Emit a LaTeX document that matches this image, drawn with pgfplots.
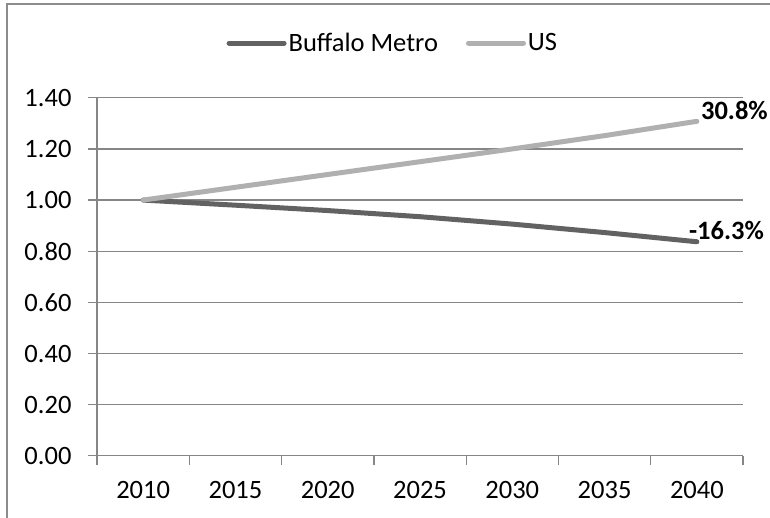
\documentclass[border=0pt]{standalone}
\usepackage{fontspec}
\setmainfont{Carlito}
\usepackage{pgfplots}
\pgfplotsset{compat=1.18}
\definecolor{axgray}{HTML}{868686}
\definecolor{bordergray}{HTML}{8C8C8C}
\definecolor{buf}{HTML}{626262}
\definecolor{usc}{HTML}{B0B0B0}
\newcommand{\chartfont}{\fontsize{26.5bp}{31bp}\selectfont}
\begin{document}
\begin{tikzpicture}[x=1bp,y=1bp]
\useasboundingbox (0,0) rectangle (770,518);
\draw[color=bordergray, line width=1.5bp] (7,-5) -- (7,514) -- (780,514);
\begin{axis}[
  at={(97bp,62.2bp)}, anchor=south west,
  scale only axis, width=646bp, height=358bp,
  xmin=-0.5, xmax=6.5, ymin=0, ymax=1.4,
  clip=false,
  axis x line*=bottom, axis y line*=left,
  axis line style={draw=axgray, line width=1.3bp, -},
  xtick={0,1,2,3,4,5,6},
  xticklabels={2010,2015,2020,2025,2030,2035,2040},
  minor xtick={-0.5,0.5,1.5,2.5,3.5,4.5,5.5,6.5},
  major x tick style={draw=none},
  minor x tick style={draw=axgray, line width=1.3bp},
  ytick={0,0.2,0.4,0.6,0.8,1.0,1.2,1.4},
  y tick style={draw=axgray, line width=1.3bp},
  major tick length=9bp, minor tick length=9bp,
  tick align=outside,
  ymajorgrids,
  y grid style={draw=axgray, line width=1.3bp},
  /pgf/number format/assume math mode=true,
  yticklabel style={/pgf/number format/fixed, /pgf/number format/fixed zerofill, /pgf/number format/precision=2, xshift=-13bp},
  every tick label/.append style={font=\chartfont, text=black},
  xticklabel style={yshift=-13bp},
  legend style={at={(0.458,1.153)}, anchor=center, draw=none, fill=none,
    font=\chartfont, legend columns=2,
    /tikz/every even column/.append style={column sep=26bp}},
  legend image code/.code={\draw[#1] (0bp,0bp) -- (55bp,0bp);},
]
\addplot[draw=buf, line width=5bp, line cap=round, line join=round, mark=none]
  coordinates {(0,1.000) (1,0.980) (2,0.959) (3,0.935) (4,0.906) (5,0.873) (6,0.837)};
\addlegendentry{Buffalo Metro}
\addplot[draw=usc, line width=5bp, line cap=round, line join=round, mark=none]
  coordinates {(0,1.000) (1,1.050) (2,1.100) (3,1.150) (4,1.200) (5,1.252) (6,1.308)};
\addlegendentry{US}
\node[anchor=west, inner sep=0pt, font=\chartfont\bfseries, xshift=4bp, yshift=10.7bp] at (axis cs:6,1.308) {30.8\%};
\node[anchor=west, inner sep=0pt, font=\chartfont\bfseries, xshift=-8bp, yshift=11.7bp] at (axis cs:6,0.837) {-16.3\%};
\end{axis}
\end{tikzpicture}
\end{document}
